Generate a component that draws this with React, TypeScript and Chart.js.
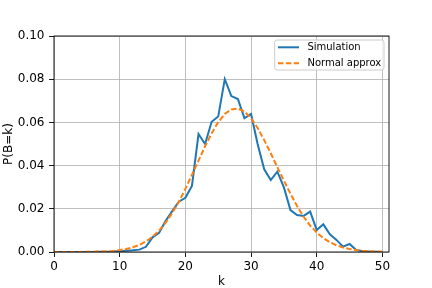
import React, { useEffect, useRef } from "react";
import { Chart, registerables } from "chart.js";

Chart.register(...registerables);

const kValues = [
  0, 1, 2, 3, 4, 5, 6, 7, 8, 9, 10, 11, 12, 13, 14, 15, 16, 17, 18, 19, 20, 21, 22, 23, 24, 25,
  26, 27, 28, 29, 30, 31, 32, 33, 34, 35, 36, 37, 38, 39, 40, 41, 42, 43, 44, 45, 46, 47, 48, 49, 50,
];

const simulation = [
  0, 0, 0, 0, 0, 0, 0, 0.0001, 0.0001, 0.0002, 0.0004, 0.0006, 0.0008, 0.0011, 0.0024, 0.0068,
  0.0089, 0.0144, 0.0189, 0.0233, 0.0251, 0.0306, 0.0546, 0.05, 0.0603, 0.0627, 0.08, 0.0722,
  0.0708, 0.0619, 0.0639, 0.05, 0.0383, 0.0333, 0.0372, 0.0299, 0.0194, 0.0171, 0.0167, 0.0187,
  0.0102, 0.0128, 0.0082, 0.0056, 0.0025, 0.0037, 0.0009, 0.0004, 0.0002, 0.0001, 0,
];

const normalApprox = [
  0, 0, 0, 0, 0, 0.0001, 0.0001, 0.0002, 0.0003, 0.0005, 0.0009, 0.0014, 0.0022, 0.0033, 0.0049,
  0.0071, 0.0099, 0.0136, 0.018, 0.0232, 0.0292, 0.0357, 0.0423, 0.0489, 0.055, 0.0601, 0.0639,
  0.066, 0.0664, 0.065, 0.0619, 0.0574, 0.0518, 0.0457, 0.0393, 0.033, 0.027, 0.0213, 0.0163,
  0.0122, 0.009, 0.0064, 0.0045, 0.0031, 0.0021, 0.0014, 0.0009, 0.0006, 0.0004, 0.0002, 0.0001,
];

const xTicks = [0, 10, 20, 30, 40, 50];
const yTicks = [0, 0.02, 0.04, 0.06, 0.08, 0.1];
const xRange = [0, 51];
const yRange = [0, 0.1];
const xLabel = "k";
const yLabel = "P(B=k)";
const seriesLabels = ["Simulation", "Normal approx"];

const BLUE = "#1f77b4";
const ORANGE = "#ff7f0e";
const FONT = "DejaVu Sans";
const DASH = [5.5, 2.4];

const framePlugin = {
  id: "mplFrame",
  afterDraw(chart: any) {
    const { ctx, chartArea } = chart;
    const { left, right, top, bottom } = chartArea;
    ctx.save();
    // spines
    ctx.strokeStyle = "#000";
    ctx.lineWidth = 0.9;
    ctx.setLineDash([]);
    ctx.strokeRect(left, top, right - left, bottom - top);

    // legend
    ctx.font = `10px "${FONT}"`;
    const textW = Math.max(...seriesLabels.map((s) => ctx.measureText(s).width));
    const w = textW + 35.5;
    const h = 30;
    const x0 = right - 5 - w;
    const y0 = top + 4;
    const r = 2.5;
    ctx.beginPath();
    ctx.moveTo(x0 + r, y0);
    ctx.lineTo(x0 + w - r, y0);
    ctx.arcTo(x0 + w, y0, x0 + w, y0 + r, r);
    ctx.lineTo(x0 + w, y0 + h - r);
    ctx.arcTo(x0 + w, y0 + h, x0 + w - r, y0 + h, r);
    ctx.lineTo(x0 + r, y0 + h);
    ctx.arcTo(x0, y0 + h, x0, y0 + h - r, r);
    ctx.lineTo(x0, y0 + r);
    ctx.arcTo(x0, y0, x0 + r, y0, r);
    ctx.closePath();
    ctx.fillStyle = "rgba(255,255,255,0.8)";
    ctx.fill();
    ctx.strokeStyle = "#cccccc";
    ctx.lineWidth = 1;
    ctx.stroke();

    const styles = [
      { color: BLUE, dash: [] as number[] },
      { color: ORANGE, dash: DASH },
    ];
    seriesLabels.forEach((label, i) => {
      const cy = y0 + 7.3 + i * 16;
      ctx.beginPath();
      ctx.setLineDash(styles[i].dash);
      ctx.strokeStyle = styles[i].color;
      ctx.lineWidth = 2;
      ctx.moveTo(x0 + 3.3, cy);
      ctx.lineTo(x0 + 24.3, cy);
      ctx.stroke();
      ctx.setLineDash([]);
      ctx.fillStyle = "#000";
      ctx.textBaseline = "middle";
      ctx.textAlign = "left";
      ctx.fillText(label, x0 + 32.7, cy);
    });
    ctx.restore();
  },
};

export default function App() {
  const canvasRef = useRef<HTMLCanvasElement | null>(null);

  useEffect(() => {
    document.body.style.margin = "0";
    const canvas = canvasRef.current;
    if (!canvas) return;

    const gridOpts = {
      color: "#b0b0b0",
      lineWidth: 0.8,
      tickLength: 5,
      tickColor: "#000",
      tickWidth: 0.9,
    };

    const chart = new Chart(canvas, {
      type: "line",
      data: {
        datasets: [
          {
            label: seriesLabels[0],
            data: kValues.map((k, i) => ({ x: k, y: simulation[i] })),
            borderColor: BLUE,
            borderWidth: 2,
            pointRadius: 0,
            tension: 0,
            fill: false,
            order: 1,
          },
          {
            label: seriesLabels[1],
            data: kValues.map((k, i) => ({ x: k, y: normalApprox[i] })),
            borderColor: ORANGE,
            borderWidth: 2,
            borderDash: DASH,
            pointRadius: 0,
            tension: 0,
            fill: false,
            order: 0,
          },
        ],
      },
      options: {
        responsive: false,
        animation: false,
        devicePixelRatio: 1,
        layout: { padding: { left: 0, top: 36, right: 43, bottom: 0 } },
        plugins: {
          legend: { display: false },
          tooltip: { enabled: false },
        },
        scales: {
          x: {
            type: "linear",
            min: xRange[0],
            max: xRange[1],
            afterBuildTicks: (scale: any) => {
              scale.ticks = xTicks.map((v) => ({ value: v }));
            },
            afterFit: (scale: any) => {
              scale.height = 36;
            },
            grid: gridOpts,
            border: { display: false },
            ticks: {
              padding: 3,
              color: "#000",
              font: { family: FONT, size: 12 },
              maxRotation: 0,
              callback: (v: any) => String(v),
            },
            title: {
              display: true,
              text: xLabel,
              color: "#000",
              font: { family: FONT, size: 12 },
              padding: { top: 0, bottom: -1 },
            },
          },
          y: {
            type: "linear",
            min: yRange[0],
            max: yRange[1],
            afterBuildTicks: (scale: any) => {
              scale.ticks = yTicks.map((v) => ({ value: v }));
            },
            afterFit: (scale: any) => {
              scale.width = 54;
            },
            grid: gridOpts,
            border: { display: false },
            ticks: {
              padding: 4.5,
              color: "#000",
              font: { family: FONT, size: 12 },
              callback: (v: any) => Number(v).toFixed(2),
            },
            title: {
              display: true,
              text: yLabel,
              color: "#000",
              font: { family: FONT, size: 12 },
              padding: { top: 2, bottom: 0 },
            },
          },
        },
      },
      plugins: [framePlugin],
    });

    return () => chart.destroy();
  }, []);

  return (
    <div style={{ width: 432, height: 288, background: "#fff" }}>
      <canvas ref={canvasRef} width={432} height={288} style={{ display: "block" }} />
    </div>
  );
}
